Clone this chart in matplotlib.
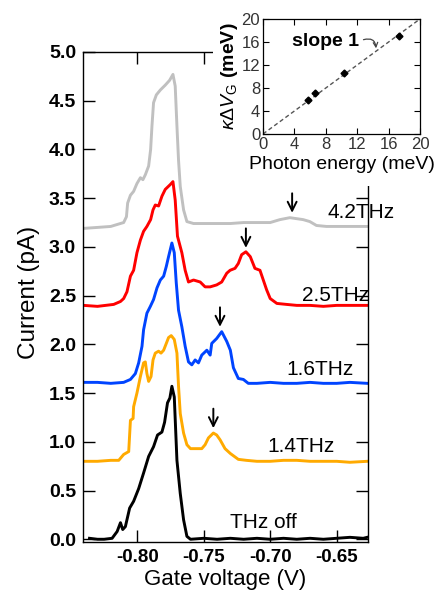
import matplotlib
matplotlib.use("Agg")
import matplotlib.pyplot as plt
from matplotlib.patches import Rectangle
from matplotlib.ticker import FormatStrFormatter, MultipleLocator

plt.rcParams['font.family'] = ['Liberation Sans', 'DejaVu Sans']
plt.rcParams['mathtext.fontset'] = 'custom'
plt.rcParams['mathtext.rm'] = 'Liberation Sans'
plt.rcParams['mathtext.it'] = 'Liberation Sans:italic'
plt.rcParams['mathtext.bf'] = 'Liberation Sans:bold'

# ---- main panel data (Gate voltage V, Current pA) ----
black_x = [-0.836, -0.830, -0.825, -0.819, -0.8152, -0.8127, -0.811, -0.809, -0.8058, -0.8028,
           -0.799, -0.7953, -0.7915, -0.7878, -0.7848, -0.7815, -0.7795, -0.7773, -0.7755, -0.774,
           -0.7722, -0.7702, -0.7677, -0.7652, -0.7627, -0.760, -0.750, -0.740, -0.730, -0.720,
           -0.710, -0.700, -0.690, -0.680, -0.670, -0.660, -0.650, -0.640, -0.630, -0.627]
black_y = [0.01, 0.00, 0.00, 0.01, 0.08, 0.17, 0.10, 0.13, 0.32, 0.39,
           0.52, 0.68, 0.85, 0.95, 1.07, 1.10, 1.20, 1.40, 1.45, 1.57,
           1.46, 0.81, 0.47, 0.20, 0.03, 0.00, 0.01, 0.00, 0.01, 0.00,
           0.01, 0.00, 0.01, 0.00, 0.01, 0.00, 0.01, 0.02, 0.01, 0.02]

orange_x = [-0.8405, -0.830, -0.820, -0.814, -0.8103, -0.8065, -0.8052, -0.8032, -0.8028, -0.8003,
            -0.7977, -0.7953, -0.794, -0.7928, -0.7915, -0.7897, -0.7882, -0.7865, -0.784, -0.7822,
            -0.7802, -0.7782, -0.7765, -0.7745, -0.7722, -0.7702, -0.769, -0.7677, -0.7652, -0.7627,
            -0.760, -0.755, -0.7515, -0.749, -0.7465, -0.7428, -0.7403, -0.7377, -0.734, -0.730,
            -0.724, -0.718, -0.710, -0.700, -0.690, -0.680, -0.670, -0.660, -0.650, -0.640, -0.627]
orange_y = [0.80, 0.80, 0.81, 0.81, 0.87, 0.90, 1.22, 1.24, 1.36, 1.50,
            1.67, 1.81, 1.82, 1.70, 1.62, 1.67, 1.84, 1.91, 1.93, 1.91,
            1.94, 2.01, 2.07, 2.09, 2.05, 1.91, 1.57, 1.29, 1.09, 0.97,
            0.93, 0.93, 0.93, 0.97, 1.04, 1.09, 1.07, 1.02, 0.93, 0.88,
            0.82, 0.81, 0.80, 0.80, 0.81, 0.81, 0.80, 0.80, 0.80, 0.79, 0.80]

blue_x = [-0.8405, -0.830, -0.820, -0.8103, -0.8052, -0.8015, -0.799, -0.7965, -0.7953, -0.7928,
          -0.7902, -0.7878, -0.7852, -0.7827, -0.7802, -0.7782, -0.7765, -0.774, -0.7722, -0.7707,
          -0.769, -0.7665, -0.764, -0.7615, -0.759, -0.7565, -0.754, -0.7515, -0.7477, -0.7452,
          -0.744, -0.7403, -0.7365, -0.7327, -0.730, -0.7277, -0.724, -0.7202, -0.7165, -0.710,
          -0.700, -0.690, -0.680, -0.670, -0.660, -0.650, -0.640, -0.627]
blue_y = [1.61, 1.61, 1.60, 1.61, 1.64, 1.70, 1.81, 1.98, 2.15, 2.32,
          2.39, 2.46, 2.58, 2.66, 2.70, 2.80, 2.90, 3.04, 2.94, 2.63,
          2.35, 2.18, 1.98, 1.82, 1.79, 1.84, 1.81, 1.89, 1.94, 1.89,
          2.01, 2.06, 2.13, 2.03, 1.94, 1.76, 1.65, 1.64, 1.60, 1.60,
          1.61, 1.60, 1.60, 1.61, 1.60, 1.60, 1.61, 1.60]

red_x = [-0.8405, -0.830, -0.8178, -0.8127, -0.8103, -0.8078, -0.8052, -0.8028, -0.8003, -0.7977,
         -0.7953, -0.7928, -0.790, -0.7882, -0.7865, -0.784, -0.7815, -0.779, -0.7752, -0.7732,
         -0.7715, -0.7698, -0.7665, -0.764, -0.7615, -0.7577, -0.7527, -0.749, -0.7452, -0.7403,
         -0.7365, -0.7327, -0.7302, -0.7265, -0.724, -0.7215, -0.7183, -0.715, -0.7115, -0.7077,
         -0.7052, -0.7027, -0.700, -0.695, -0.6877, -0.680, -0.670, -0.660, -0.650, -0.640, -0.627]
red_y = [2.40, 2.39, 2.41, 2.44, 2.47, 2.54, 2.70, 2.76, 2.94, 3.07,
         3.16, 3.21, 3.28, 3.38, 3.43, 3.42, 3.52, 3.59, 3.64, 3.67,
         3.48, 3.11, 2.94, 2.76, 2.64, 2.66, 2.64, 2.59, 2.59, 2.61,
         2.64, 2.73, 2.76, 2.78, 2.83, 2.92, 2.95, 2.90, 2.78, 2.76,
         2.66, 2.56, 2.47, 2.42, 2.41, 2.40, 2.40, 2.39, 2.40, 2.40, 2.40]

gray_x = [-0.8405, -0.830, -0.820, -0.8152, -0.8103, -0.8082, -0.8073, -0.8052, -0.8028, -0.8003,
          -0.7977, -0.7958, -0.794, -0.7915, -0.790, -0.789, -0.7878, -0.7857, -0.7827, -0.779,
          -0.7757, -0.7732, -0.7715, -0.7702, -0.769, -0.7677, -0.7652, -0.7627, -0.7577, -0.750,
          -0.740, -0.730, -0.720, -0.710, -0.700, -0.6927, -0.6852, -0.6802, -0.6752, -0.6702,
          -0.6652, -0.6577, -0.650, -0.640, -0.627]
gray_y = [3.19, 3.20, 3.21, 3.23, 3.25, 3.31, 3.45, 3.53, 3.57, 3.65,
          3.71, 3.69, 3.74, 3.83, 4.00, 4.24, 4.48, 4.56, 4.61, 4.66,
          4.71, 4.77, 4.65, 4.24, 3.89, 3.62, 3.38, 3.26, 3.24, 3.24,
          3.24, 3.24, 3.25, 3.25, 3.25, 3.28, 3.30, 3.29, 3.28, 3.26,
          3.22, 3.21, 3.21, 3.21, 3.21]

labels = ["THz off", "1.4THz", "1.6THz", "2.5THz", "4.2THz"]
label_x = [-0.7302, -0.7025, -0.6875, -0.6763, -0.6568]
label_y = [0.17, 0.95, 1.74, 2.50, 3.35]

arrow_x = [-0.7428, -0.7378, -0.7183, -0.6835]
arrow_tip_y = [1.14, 2.18, 2.99, 3.35]

# ---- inset data ----
photon_energy = [5.79, 6.62, 10.34, 17.37]
kappa_dVg = [6.0, 7.1, 10.6, 17.1]
slope_line = [0, 20]

W, H = 444, 594
fig = plt.figure(figsize=(W / 100, H / 100), dpi=100)
ax = fig.add_axes([83 / W, 1 - 542 / H, (368 - 83) / W, (542 - 52) / H])

curves = [(black_x, black_y, 'black'), (orange_x, orange_y, '#ffaa00'),
          (blue_x, blue_y, '#0044ff'), (red_x, red_y, '#ff0000'),
          (gray_x, gray_y, '#c0c0c0')]
for xs, ys, c in curves:
    ax.plot(xs, ys, color=c, lw=2.1, solid_joinstyle='round', clip_on=True)

for t, lx, ly in zip(labels, label_x, label_y):
    ax.text(lx, ly, t, fontsize=15, va='center', ha='left', clip_on=False, zorder=4)

for axx, ty in zip(arrow_x, arrow_tip_y):
    ax.annotate('', xy=(axx, ty), xytext=(axx, ty + 0.2),
                arrowprops=dict(arrowstyle='->', lw=1.4, color='black', mutation_scale=16,
                                shrinkA=0, shrinkB=0))

ax.set_xlim(-0.8409, -0.6264)
ax.set_ylim(-0.028, 5.0)
ax.xaxis.set_major_locator(MultipleLocator(0.05))
ax.yaxis.set_major_locator(MultipleLocator(0.5))
ax.xaxis.set_major_formatter(FormatStrFormatter('%.2f'))
ax.yaxis.set_major_formatter(FormatStrFormatter('%.1f'))
ax.tick_params(direction='in', length=8.5, width=1, top=True, right=True,
               labelsize=14, pad=5)
ax.tick_params(axis='x', labelsize=13.5, pad=5)
for lab in ax.get_xticklabels() + ax.get_yticklabels():
    lab.set_fontweight('bold')
ax.set_xlabel('Gate voltage (V)', fontsize=16)
ax.set_ylabel('Current (pA)', fontsize=17.5)
ax.xaxis.set_label_coords(0.5, -0.055)
ax.yaxis.set_label_coords(-0.151, 0.509)
for s in ax.spines.values():
    s.set_linewidth(1.0)

# white cover behind the inset
cover = Rectangle((213 / W, 1 - 186 / H), (W - 213) / W, 186 / H,
                  transform=fig.transFigure, facecolor='white', edgecolor='none', zorder=5)
fig.add_artist(cover)

ins = fig.add_axes([263 / W, 1 - 134 / H, (420 - 263) / W, (134 - 19) / H], zorder=10)
ins.plot(slope_line, slope_line, ls=(0, (3, 2)), color='#555555', lw=1.0)
ins.plot(photon_energy, kappa_dVg, 'D', color='black', ms=3.5)
ins.set_xlim(0, 20)
ins.set_ylim(0, 20)
ins.set_xticks([0, 4, 8, 12, 16, 20])
ins.set_yticks([0, 4, 8, 12, 16, 20])
ins.tick_params(direction='in', length=4, width=0.8, top=True, right=True,
                labelsize=12, pad=2, labelcolor='#333333')
ins.set_xlabel('Photon energy (meV)', fontsize=14, labelpad=3)
ins.set_ylabel(r'$\kappa\Delta V_\mathrm{G}$ (meV)', fontsize=14, fontweight='bold', labelpad=1)
ins.text(3.7, 16.05, 'slope 1', fontsize=14, fontweight='bold', va='center', ha='left')
ins.annotate('', xy=(14.4, 14.9), xytext=(12.8, 16.4),
             arrowprops=dict(arrowstyle='->', lw=0.9, color='#444444',
                             connectionstyle='arc3,rad=-0.6', shrinkA=0, shrinkB=0,
                             mutation_scale=8))
for s in ins.spines.values():
    s.set_linewidth(0.9)

fig.savefig('out.png', dpi=100)
